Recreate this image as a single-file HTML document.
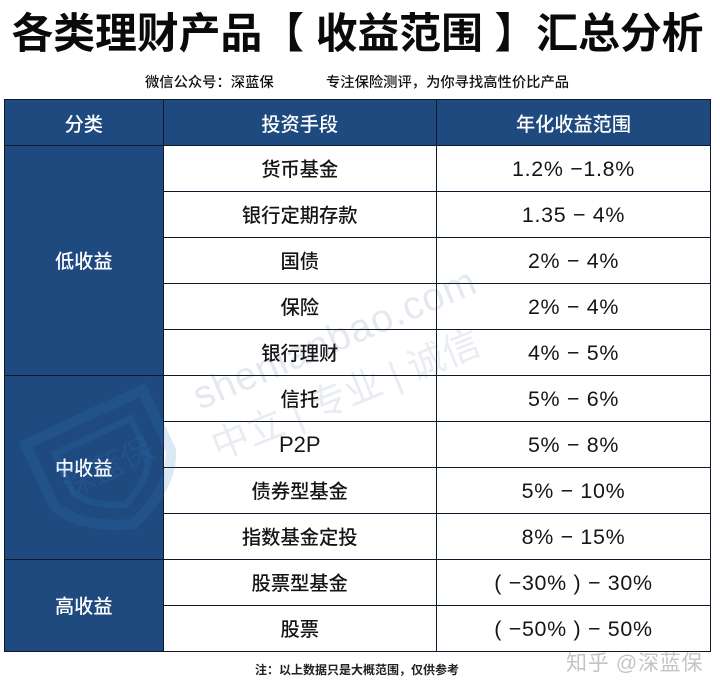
<!DOCTYPE html>
<html lang="zh">
<head>
<meta charset="utf-8">
<title>各类理财产品收益范围汇总分析</title>
<style>
html,body{margin:0;padding:0;background:#fff;}
body{width:720px;height:693px;position:relative;overflow:hidden;font-family:"Liberation Sans","Noto Sans CJK SC",sans-serif;color:#111;}
.title{position:absolute;left:0;top:4px;width:715px;height:60px;line-height:60px;text-align:center;font-size:41.8px;font-weight:700;white-space:nowrap;color:#0a0a0a;}
.sub{position:absolute;top:74px;height:18px;line-height:18px;font-size:14.3px;font-weight:500;white-space:nowrap;color:#111;}
table{position:absolute;left:4px;top:99px;width:706px;height:552px;border-collapse:collapse;table-layout:fixed;}
td,th{border:1.4px solid #0e1a2c;padding:0;text-align:center;vertical-align:middle;height:46px;box-sizing:border-box;}
th,.cat{background:#1f4a7f;color:#fff;font-size:19.2px;font-weight:500;}
.cat{padding-bottom:2px;}
.name{font-size:19.3px;font-weight:500;color:#151515;padding-bottom:2px;}
.p2p{font-size:22px;font-weight:400;padding-bottom:0;}
.val{font-size:21.4px;color:#151515;letter-spacing:.7px;padding-top:1px;}
.note{position:absolute;left:255px;top:661px;height:18px;line-height:18px;font-size:12px;font-weight:700;color:#222;white-space:nowrap;}
.zhihu{position:absolute;left:566px;top:650px;height:28px;line-height:28px;font-size:21px;color:#c4c4c4;white-space:nowrap;letter-spacing:.7px;}
svg.wm{position:absolute;left:0;top:0;pointer-events:none;}
</style>
</head>
<body>
<div class="title">各类理财产品【 收益范围 】汇总分析</div>
<div class="sub" style="left:145px">微信公众号：深蓝保</div>
<div class="sub" style="left:326px">专注保险测评，为你寻找高性价比产品</div>
<table>
<colgroup><col style="width:158.5px"><col style="width:273.5px"><col style="width:274px"></colgroup>
<tr><th>分类</th><th>投资手段</th><th>年化收益范围</th></tr>
<tr><td class="cat" rowspan="5">低收益</td><td class="name">货币基金</td><td class="val">1.2% −1.8%</td></tr>
<tr><td class="name">银行定期存款</td><td class="val">1.35 − 4%</td></tr>
<tr><td class="name">国债</td><td class="val">2% − 4%</td></tr>
<tr><td class="name">保险</td><td class="val">2% − 4%</td></tr>
<tr><td class="name">银行理财</td><td class="val">4% − 5%</td></tr>
<tr><td class="cat" rowspan="4">中收益</td><td class="name">信托</td><td class="val">5% − 6%</td></tr>
<tr><td class="name p2p">P2P</td><td class="val">5% − 8%</td></tr>
<tr><td class="name">债券型基金</td><td class="val">5% − 10%</td></tr>
<tr><td class="name">指数基金定投</td><td class="val">8% − 15%</td></tr>
<tr><td class="cat" rowspan="2">高收益</td><td class="name">股票型基金</td><td class="val">( −30% ) − 30%</td></tr>
<tr><td class="name">股票</td><td class="val">( −50% ) − 50%</td></tr>
</table>
<svg class="wm" width="720" height="693" viewBox="0 0 720 693">
<g transform="translate(105 462) rotate(-25) scale(.95)" fill="none" stroke="#2f7fc4" stroke-opacity=".17" stroke-width="11">
<path d="M-68 -52 L68 -52 L68 18 Q55 52 0 72 Q-55 52 -68 18 Z"/>
<path d="M-44 -30 L44 -30 L44 14 Q34 36 0 50 Q-34 36 -44 14 Z" stroke-width="7"/>
<text x="0" y="18" text-anchor="middle" font-size="34" fill="#2f7fc4" fill-opacity=".17" stroke="none" font-family="Liberation Sans, Noto Sans CJK SC, sans-serif">深蓝保</text>
</g>
<text x="200" y="410" transform="rotate(-23 200 410)" font-size="39.5" fill="#26487a" fill-opacity=".12" font-family="Liberation Sans, sans-serif" letter-spacing="1">shenlanbao.com</text>
<text x="218" y="460" transform="rotate(-22 218 460)" font-size="37.5" fill="#26487a" fill-opacity=".1" font-family="Liberation Sans, Noto Sans CJK SC, sans-serif">中立 | 专业 | 诚信</text>
</svg>
<div class="note">注：以上数据只是大概范围，仅供参考</div>
<div class="zhihu">知乎 @深蓝保</div>
</body>
</html>
